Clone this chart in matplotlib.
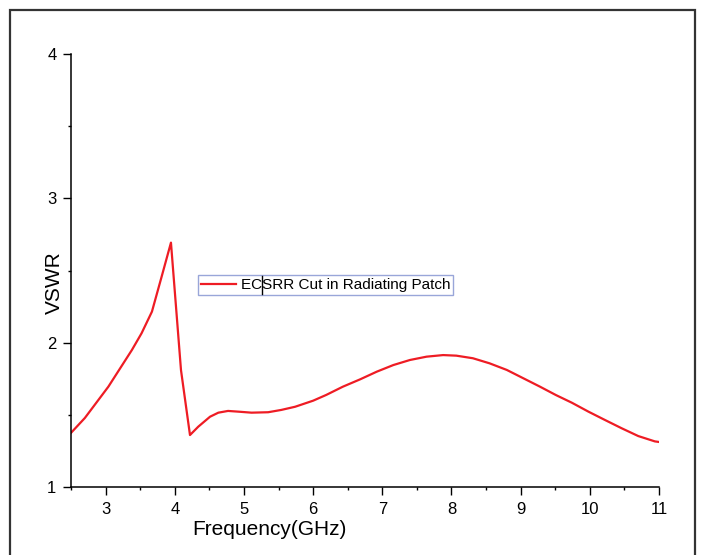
import matplotlib
matplotlib.use("Agg")
import matplotlib.pyplot as plt
from matplotlib.patches import Rectangle
from matplotlib.lines import Line2D
from matplotlib.ticker import MultipleLocator

plt.rcParams['font.family'] = ['Liberation Sans', 'DejaVu Sans']

# VSWR of the patch with the ECSRR cut
freq = [2.50, 2.70, 3.04, 3.38, 3.52, 3.67, 3.81, 3.945,
        4.09, 4.22, 4.34, 4.51, 4.63, 4.77, 4.92, 5.11,
        5.35, 5.54, 5.74, 6.00, 6.19, 6.43, 6.68, 6.92,
        7.16, 7.40, 7.64, 7.88, 8.07, 8.31, 8.55, 8.80,
        9.04, 9.28, 9.51, 9.74, 9.98, 10.22, 10.46, 10.70,
        10.94, 11.00]
vswr = [1.375, 1.478, 1.695, 1.949, 2.065, 2.215, 2.457, 2.693,
        1.81, 1.36, 1.418, 1.487, 1.515, 1.527, 1.522, 1.515,
        1.518, 1.534, 1.556, 1.598, 1.638, 1.695, 1.746, 1.799,
        1.845, 1.880, 1.903, 1.914, 1.910, 1.892, 1.857, 1.811,
        1.753, 1.695, 1.637, 1.584, 1.522, 1.464, 1.407, 1.353,
        1.316, 1.312]
legend_label = "ECSRR Cut in Radiating Patch"

fig = plt.figure(figsize=(7.01, 5.55), dpi=100)
ax = fig.add_axes([71/701, 68/555, 588/701, 433/555])

ax.plot(freq, vswr, color='#ee1c24', lw=1.6, label=legend_label)

ax.set_xlim(2.5, 11)
ax.set_ylim(1, 4)
ax.xaxis.set_major_locator(MultipleLocator(1))
ax.xaxis.set_minor_locator(MultipleLocator(0.5))
ax.yaxis.set_major_locator(MultipleLocator(1))
ax.yaxis.set_minor_locator(MultipleLocator(0.5))

for side in ['top', 'right']:
    ax.spines[side].set_visible(False)
for side in ['left', 'bottom']:
    ax.spines[side].set_linewidth(1.1)

ax.tick_params(which='major', direction='out', length=5.5, width=1.0,
               labelsize=12, pad=5)
ax.tick_params(which='minor', direction='out', length=2.5, width=1.0)

ax.set_xlabel("Frequency(GHz)", fontsize=15)
ax.set_ylabel("VSWR", fontsize=15)
ax.xaxis.set_label_coords(0.338, -0.099)
ax.xaxis.label.set_va('center')
ax.yaxis.set_label_coords(-0.028, 0.473)
ax.yaxis.label.set_va('center')

leg = ax.legend(loc='upper left', bbox_to_anchor=(0.216, 0.4896),
                fontsize=11, frameon=True, fancybox=False,
                handlelength=2.3, handletextpad=0.3, borderpad=0.2,
                borderaxespad=0)
leg.get_frame().set_edgecolor('#8090d0')
leg.get_frame().set_linewidth(1.0)

# text cursor left inside the legend label
fig.add_artist(Line2D([262/701, 262/701], [1 - 276/555, 1 - 294/555],
                      color='black', lw=1.0))

# outer frame around the plot
fig.add_artist(Rectangle((10/701, -0.05), 685/701, 1.05 - 10/555,
                         transform=fig.transFigure, fill=False,
                         edgecolor='#333333', lw=1.6))

fig.savefig("out.png", dpi=100)
